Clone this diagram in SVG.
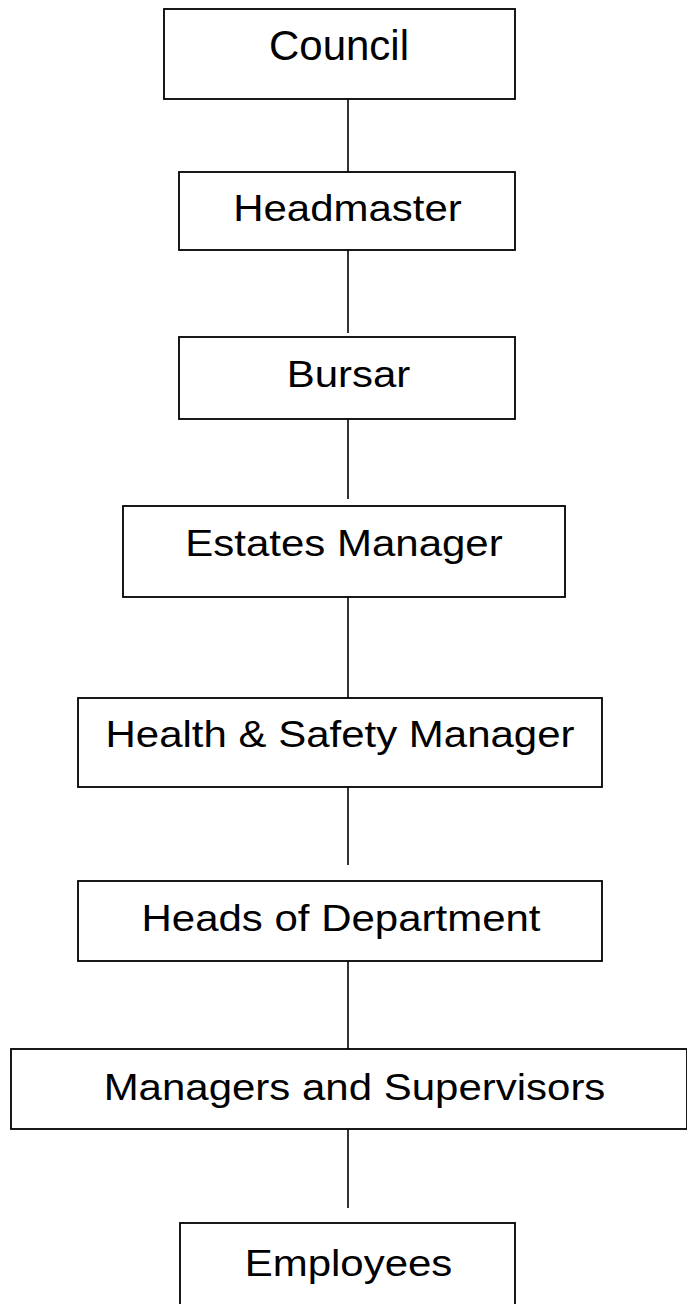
<svg xmlns="http://www.w3.org/2000/svg" width="687" height="1304" viewBox="0 0 687 1304">
  <style>
    .box { fill: #ffffff; stroke: #000000; stroke-width: 1.8; }
    .lbl { font-family: "Liberation Sans", Arial, sans-serif; font-size: 42px; fill: #000000; text-anchor: middle; }
    .link { stroke: #000000; stroke-width: 1.6; fill: none; }
  </style>
  <rect width="687" height="1304" fill="#ffffff"/>

  <!-- reporting lines -->
  <g id="connectors">
    <line class="link" x1="348" y1="99" x2="348" y2="172"/>
    <line class="link" x1="348" y1="250" x2="348" y2="333"/>
    <line class="link" x1="348" y1="419" x2="348" y2="499"/>
    <line class="link" x1="348" y1="597" x2="348" y2="698"/>
    <line class="link" x1="348" y1="787" x2="348" y2="865"/>
    <line class="link" x1="348" y1="961" x2="348" y2="1049"/>
    <line class="link" x1="348" y1="1129" x2="348" y2="1208"/>
  </g>

  <g id="council">
    <rect class="box" x="164" y="9" width="351" height="90"/>
    <text class="lbl" x="339" y="60">Council</text>
  </g>

  <g id="headmaster">
    <rect class="box" x="179" y="172" width="336" height="78"/>
    <text class="lbl" transform="translate(347.5,220.5) scale(1,0.9)" x="0" y="0">Headmaster</text>
  </g>

  <g id="bursar">
    <rect class="box" x="179" y="337" width="336" height="82"/>
    <text class="lbl" transform="translate(348.5,386.5) scale(1,0.9)" x="0" y="0">Bursar</text>
  </g>

  <g id="estates-manager">
    <rect class="box" x="123" y="506" width="442" height="91"/>
    <text class="lbl" transform="translate(344,556) scale(1,0.9)" x="0" y="0">Estates Manager</text>
  </g>

  <g id="health-safety-manager">
    <rect class="box" x="78" y="698" width="524" height="89"/>
    <text class="lbl" transform="translate(340,747) scale(1,0.9)" x="0" y="0">Health &amp; Safety Manager</text>
  </g>

  <g id="heads-of-department">
    <rect class="box" x="78" y="881" width="524" height="80"/>
    <text class="lbl" transform="translate(341,930.5) scale(1,0.9)" x="0" y="0">Heads of Department</text>
  </g>

  <g id="managers-supervisors">
    <rect class="box" x="11" y="1049" width="676" height="80"/>
    <text class="lbl" transform="translate(354.5,1100) scale(1,0.9)" x="0" y="0">Managers and Supervisors</text>
  </g>

  <g id="employees">
    <rect class="box" x="180" y="1223" width="335" height="90"/>
    <text class="lbl" transform="translate(348.5,1275.5) scale(1,0.9)" x="0" y="0">Employees</text>
  </g>
</svg>
